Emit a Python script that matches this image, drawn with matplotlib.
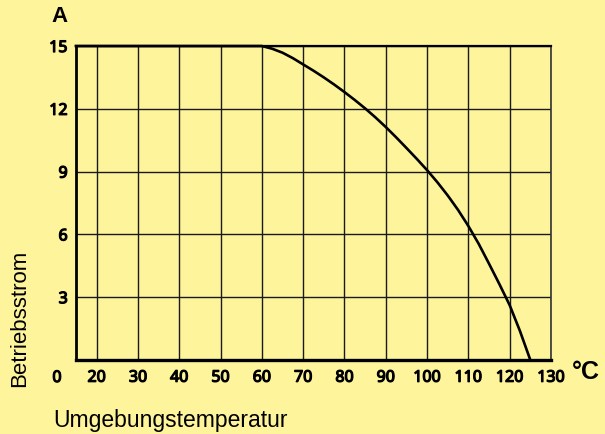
import matplotlib
matplotlib.use("Agg")
import matplotlib.pyplot as plt
import matplotlib.patheffects as pe

# Derating curve: operating current vs ambient temperature
temp = [15, 60, 62.5, 65, 67.5, 70, 72.5, 75, 77.5, 80, 82.5, 85, 87.5, 90,
        92.5, 95, 97.5, 100, 102.5, 105, 107.5, 110, 112.5, 115, 117.5, 120,
        122.5, 125]
current = [15, 15, 14.87, 14.68, 14.42, 14.12, 13.82, 13.5, 13.16, 12.8, 12.42,
           12.02, 11.59, 11.13, 10.64, 10.13, 9.61, 9.07, 8.49, 7.86, 7.17, 6.4,
           5.55, 4.6, 3.63, 2.62, 1.38, 0]

x_ticks = [20, 30, 40, 50, 60, 70, 80, 90, 100, 110, 120, 130]
y_ticks = [3, 6, 9, 12, 15]

bg = "#fef49c"
tick_font = ["Noto Sans", "DejaVu Sans"]
bolden = [pe.withStroke(linewidth=0.9, foreground="black")]

fig = plt.figure(figsize=(6.05, 4.34), dpi=100, facecolor=bg)
ax = fig.add_axes([0.1256, 0.1705, 0.7851, 0.7235])
ax.set_facecolor(bg)

ax.set_xlim(15, 130)
ax.set_ylim(0, 15)

# Grid
for x in x_ticks:
    ax.axvline(x, color="#1a1a1a", lw=1.0, zorder=1)
for y in y_ticks:
    ax.axhline(y, color="#1a1a1a", lw=1.0, zorder=1)

ax.plot(temp, current, color="black", lw=1.9, zorder=3, clip_on=False,
        solid_joinstyle="round")

# Frame
ax.spines["left"].set_linewidth(2.0)
ax.spines["bottom"].set_linewidth(2.4)
ax.spines["top"].set_linewidth(1.6)
ax.spines["right"].set_linewidth(1.2)
ax.spines["right"].set_color("#333333")

ax.set_xticks(x_ticks)
ax.set_xticklabels([str(v) for v in x_ticks])
ax.set_yticks(y_ticks)
ax.set_yticklabels([str(v) for v in y_ticks])
ax.tick_params(axis="both", length=0, labelsize=11.5)
ax.tick_params(axis="x", pad=7)
ax.tick_params(axis="y", pad=6)
for lab in ax.get_xticklabels() + ax.get_yticklabels():
    lab.set_family(tick_font)
    lab.set_fontweight("bold")
    lab.set_fontstretch("condensed")
    lab.set_path_effects(bolden)

# Origin label, units
ax.annotate("0", xy=(15, 0), xytext=(-19, -18), textcoords="offset pixels",
            ha="center", va="center", fontsize=11.5, fontweight="bold",
            fontstretch="condensed", family=tick_font, annotation_clip=False,
            path_effects=bolden)
fig.text(60 / 605, 1 - 17 / 434, "A", ha="center", va="center",
         fontsize=16, fontweight="bold", family="Liberation Sans")
fig.text(586 / 605, 1 - 372 / 434, "°C", ha="center", va="center",
         fontsize=18, fontweight="bold", family="Liberation Sans")

# Axis titles
fig.text(20 / 605, 1 - 318 / 434, "Betriebsstrom", rotation=90,
         ha="center", va="center", fontsize=16, family="Liberation Sans")
fig.text(53 / 605, 1 - 420 / 434, "Umgebungstemperatur",
         ha="left", va="center", fontsize=16.5, family="Liberation Sans")

fig.savefig("out.png", dpi=100, facecolor=bg)
